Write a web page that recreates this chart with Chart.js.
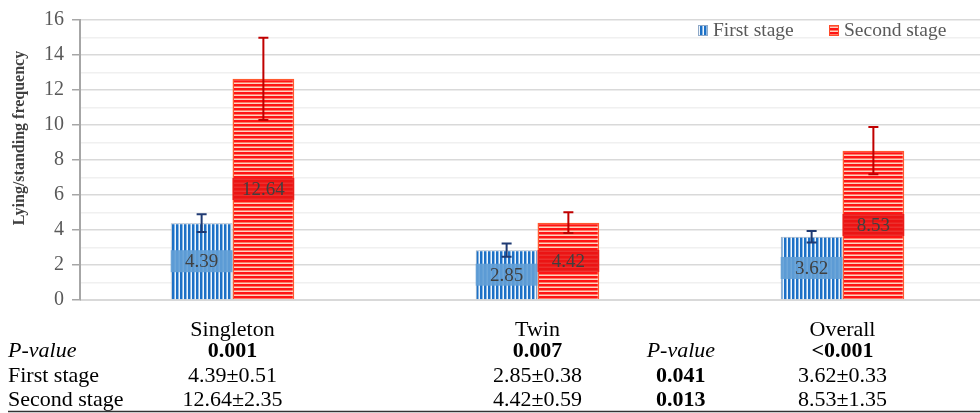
<!DOCTYPE html>
<html>
<head>
<meta charset="utf-8">
<script src="https://cdn.jsdelivr.net/npm/chart.js@4"></script>
<style>
  html, body { margin: 0; padding: 0; background: #fff; overflow: hidden; }
  #wrap { width: 995px; height: 413px; }
</style>
</head>
<body>
<div id="wrap"><canvas id="myCanvas"></canvas></div>
<script>
// dati
let categorie = ['Singleton', 'Twin', 'Overall'];
let primaFase = [4.39, 2.85, 3.62];
let secondaFase = [12.64, 4.42, 8.53];
let primaSD = [0.51, 0.38, 0.33];
let secondaSD = [2.35, 0.59, 1.35];
let pGruppo = ['0.001', '0.007', '<0.001'];
let pFase = ['0.041', '0.013'];
let righeTabella = ['P-value', 'First stage', 'Second stage'];
let etichette = ['First stage', 'Second stage'];

const serif = "'Liberation Serif', 'Times New Roman', serif";

// pattern a righe
function strisceVerticali() {
    let c = document.createElement('canvas');
    c.width = 4; c.height = 4;
    let g = c.getContext('2d');
    g.fillStyle = '#f0f6fc'; g.fillRect(0, 0, 4, 4);
    g.fillStyle = '#1c70c6'; g.fillRect(0, 0, 2, 4);
    g.fillStyle = '#8ab8e4'; g.fillRect(2, 0, 1, 4);
    return g.createPattern(c, 'repeat');
}
function strisceOrizzontali() {
    let c = document.createElement('canvas');
    c.width = 4; c.height = 4;
    let g = c.getContext('2d');
    g.fillStyle = '#ff1414'; g.fillRect(0, 0, 4, 4);
    g.fillStyle = '#fcd2c0'; g.fillRect(0, 3, 4, 1);
    g.fillStyle = '#ff7a66'; g.fillRect(0, 2, 4, 1);
    return g.createPattern(c, 'repeat');
}
let blu = strisceVerticali();
let rosso = strisceOrizzontali();

const extras = {
    id: 'extras',
    afterDatasetsDraw(chart) {
        const ctx = chart.ctx;
        const ys = chart.scales.y;
        chart.data.datasets.forEach((ds, di) => {
            const meta = chart.getDatasetMeta(di);
            meta.data.forEach((bar, i) => {
                const p = bar.getProps(['x', 'y', 'base', 'width'], true);
                const mid = (p.y + p.base) / 2;
                // box etichetta
                ctx.save();
                ctx.fillStyle = ds.boxColor;
                ctx.fillRect(p.x - p.width / 2, mid - 11, p.width, 22);
                ctx.fillStyle = '#404040';
                ctx.font = '19px ' + serif;
                ctx.textAlign = 'center';
                ctx.textBaseline = 'middle';
                ctx.fillText(ds.data[i].toFixed(2), p.x, mid + 1);
                // barre di errore
                const top = ys.getPixelForValue(ds.data[i] + ds.sd[i]);
                const bot = ys.getPixelForValue(ds.data[i] - ds.sd[i]);
                ctx.strokeStyle = ds.errColor;
                ctx.lineWidth = 2;
                ctx.beginPath();
                ctx.moveTo(p.x, top); ctx.lineTo(p.x, bot);
                ctx.moveTo(p.x - 5, top); ctx.lineTo(p.x + 5, top);
                ctx.moveTo(p.x - 5, bot); ctx.lineTo(p.x + 5, bot);
                ctx.stroke();
                ctx.restore();
            });
        });
    },
    afterDraw(chart) {
        const ctx = chart.ctx;
        const xs = chart.scales.x;
        ctx.save();
        // titolo asse y
        ctx.translate(20, 138);
        ctx.rotate(-Math.PI / 2);
        ctx.font = 'bold 16px ' + serif;
        ctx.fillStyle = '#404040';
        ctx.textAlign = 'center';
        ctx.textBaseline = 'middle';
        ctx.fillText('Lying/standing frequency', 0, 0);
        ctx.restore();

        // legenda
        ctx.save();
        ctx.font = '19.5px ' + serif;
        ctx.textBaseline = 'middle';
        const legX = [698, 829];
        const fills = [blu, rosso];
        const bords = ['#8fa9c8', '#ff4a2a'];
        etichette.forEach((t, k) => {
            ctx.fillStyle = fills[k];
            ctx.fillRect(legX[k], 25, 10, 11);
            ctx.strokeStyle = bords[k];
            ctx.lineWidth = 1;
            ctx.strokeRect(legX[k] + 0.5, 25.5, 9, 10);
            ctx.fillStyle = '#595959';
            ctx.fillText(t, legX[k] + 15, 31);
        });
        ctx.restore();

        // tabella sotto il grafico
        ctx.save();
        ctx.fillStyle = '#000';
        ctx.textBaseline = 'middle';
        const righeY = [351, 376, 400];
        ctx.textAlign = 'left';
        righeTabella.forEach((t, r) => {
            ctx.font = (r === 0 ? 'italic ' : '') + '22px ' + serif;
            ctx.fillText(t, 8, righeY[r]);
        });
        ctx.textAlign = 'center';
        categorie.forEach((c, i) => {
            const cx = xs.getPixelForValue(i);
            ctx.font = 'bold 22px ' + serif;
            ctx.fillText(pGruppo[i], cx, righeY[0]);
            ctx.font = '22px ' + serif;
            ctx.fillText(primaFase[i].toFixed(2) + '\u00b1' + primaSD[i].toFixed(2), cx, righeY[1]);
            ctx.fillText(secondaFase[i].toFixed(2) + '\u00b1' + secondaSD[i].toFixed(2), cx, righeY[2]);
        });
        const px = xs.getPixelForValue(1.47);
        ctx.font = 'italic 22px ' + serif;
        ctx.fillText('P-value', px, righeY[0]);
        ctx.font = 'bold 22px ' + serif;
        ctx.fillText(pFase[0], px, righeY[1]);
        ctx.fillText(pFase[1], px, righeY[2]);
        ctx.strokeStyle = '#333';
        ctx.lineWidth = 1.5;
        ctx.beginPath();
        ctx.moveTo(8, 411.5); ctx.lineTo(980, 411.5);
        ctx.stroke();
        ctx.restore();
    }
};

let myCanvas = document.getElementById('myCanvas').getContext('2d');

let chart = new Chart(myCanvas, {
    type: 'bar',
    data: {
        labels: categorie,
        datasets: [{
            label: etichette[0],
            data: primaFase,
            sd: primaSD,
            backgroundColor: blu,
            borderColor: '#9fb0c4',
            borderWidth: 1,
            boxColor: 'rgba(98, 158, 214, 0.92)',
            errColor: '#1f3a73'
        }, {
            label: etichette[1],
            data: secondaFase,
            sd: secondaSD,
            backgroundColor: rosso,
            borderColor: '#ff5a30',
            borderWidth: 1.5,
            boxColor: 'rgba(232, 20, 20, 0.85)',
            errColor: '#c00000'
        }]
    },
    options: {
        responsive: true,
        maintainAspectRatio: false,
        animation: false,
        categoryPercentage: 0.405,
        barPercentage: 1,
        layout: { padding: { top: 16, left: 0, right: 0, bottom: 0 } },
        plugins: {
            legend: { display: false },
            tooltip: { enabled: false }
        },
        scales: {
            x: {
                grid: { display: false, drawTicks: false },
                border: { display: true, color: '#d9d9d9', width: 1 },
                ticks: { color: '#000', font: { family: serif, size: 22 }, padding: 17 },
                afterFit: (s) => { s.height = 113; }
            },
            y: {
                min: 0,
                max: 16,
                ticks: {
                    stepSize: 1,
                    autoSkip: false,
                    color: '#595959',
                    font: { family: serif, size: 20 },
                    padding: 8,
                    callback: (v) => (v % 2 === 0 ? v : '')
                },
                grid: {
                    color: (c) => (c.tick && c.tick.value % 2 === 0 ? '#d9d9d9' : '#f0f0f0'),
                    tickColor: (c) => (c.tick && c.tick.value % 2 === 0 ? '#a6a6a6' : 'rgba(0,0,0,0)'),
                    tickLength: 8,
                    lineWidth: 1.5
                },
                border: { color: '#a6a6a6', width: 2 },
                afterFit: (s) => { s.width = 80; }
            }
        }
    },
    plugins: [extras]
});
</script>
</body>
</html>
